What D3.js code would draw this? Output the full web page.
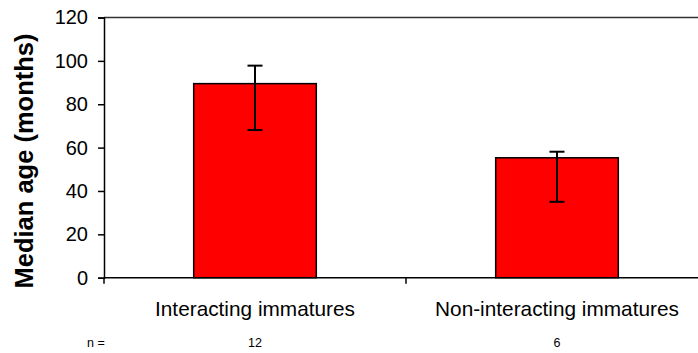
<!DOCTYPE html>
<html>
<head>
<meta charset="utf-8">
<script src="https://cdn.jsdelivr.net/npm/d3@7"></script>
<style>
  html, body { margin: 0; padding: 0; background: #fff; }
  svg { display: block; font-family: Arial, "Liberation Sans", sans-serif; }
</style>
</head>
<body>
<svg id="chart" width="698" height="353"></svg>
<script>
// Median age per group, with error-bar bounds and sample sizes
const categories = ["Interacting immatures", "Non-interacting immatures"];
const medianAge = [89.5, 55.3];
const errorHigh = [97.8, 58.1];
const errorLow = [68.1, 35.0];
const sampleSizes = ["12", "6"];
const yTicks = [0, 20, 40, 60, 80, 100, 120];

const svg = d3.select("#chart");
const plotLeft = 104, plotRight = 708, plotTop = 17.5, plotBottom = 277.7;

const x = d3.scaleBand().domain(categories).range([plotLeft, plotRight])
  .paddingInner(0.594).paddingOuter(0.297);
const y = d3.scaleLinear().domain([0, 120]).range([plotBottom, plotTop]);

// Top border of the plot area
svg.append("line")
  .attr("x1", plotLeft).attr("x2", plotRight)
  .attr("y1", y(120)).attr("y2", y(120))
  .attr("stroke", "#333").attr("stroke-width", 1.5);

// Y axis
const yAxis = svg.append("g")
  .attr("transform", `translate(${plotLeft},0)`)
  .call(d3.axisLeft(y).tickValues(yTicks).tickSize(6).tickPadding(10));
yAxis.select(".domain").attr("stroke", "#000").attr("stroke-width", 1.5);
yAxis.selectAll(".tick line").attr("stroke", "#000").attr("stroke-width", 1.5);
yAxis.selectAll(".tick text")
  .attr("font-size", 20).attr("fill", "#000")
  .attr("font-family", "Arial, 'Liberation Sans', sans-serif");

// Bars
svg.append("g").selectAll("rect")
  .data(categories)
  .join("rect")
  .attr("x", d => x(d))
  .attr("width", x.bandwidth())
  .attr("y", (d, i) => y(medianAge[i]))
  .attr("height", (d, i) => y(0) - y(medianAge[i]))
  .attr("fill", "#ff0000")
  .attr("stroke", "#000")
  .attr("stroke-width", 1.5);

// X axis with category boundary ticks
svg.append("line")
  .attr("x1", plotLeft).attr("x2", plotRight)
  .attr("y1", y(0)).attr("y2", y(0))
  .attr("stroke", "#000").attr("stroke-width", 1.5);
const step = x.step();
const boundaries = d3.range(categories.length + 1).map(i => plotLeft + i * step);
svg.append("g").selectAll("line")
  .data(boundaries)
  .join("line")
  .attr("x1", d => d).attr("x2", d => d)
  .attr("y1", y(0)).attr("y2", y(0) + 6)
  .attr("stroke", "#000").attr("stroke-width", 1.5);

// Error bars
const cap = 7.5;
const eb = svg.append("g").attr("stroke", "#000").attr("stroke-width", 2);
categories.forEach((c, i) => {
  const cx = x(c) + x.bandwidth() / 2;
  eb.append("line").attr("x1", cx).attr("x2", cx)
    .attr("y1", y(errorHigh[i])).attr("y2", y(errorLow[i]));
  eb.append("line").attr("x1", cx - cap).attr("x2", cx + cap)
    .attr("y1", y(errorHigh[i])).attr("y2", y(errorHigh[i]));
  eb.append("line").attr("x1", cx - cap).attr("x2", cx + cap)
    .attr("y1", y(errorLow[i])).attr("y2", y(errorLow[i]));
});

// Category labels
svg.append("g").selectAll("text")
  .data(categories)
  .join("text")
  .attr("x", d => x(d) + x.bandwidth() / 2)
  .attr("y", 316)
  .attr("text-anchor", "middle")
  .attr("font-size", 20.8)
  .attr("fill", "#000")
  .text(d => d);

// Sample sizes
svg.append("text")
  .attr("x", 87).attr("y", 347)
  .attr("font-size", 12.5).attr("fill", "#000")
  .text("n =");
svg.append("g").selectAll("text")
  .data(categories)
  .join("text")
  .attr("x", d => x(d) + x.bandwidth() / 2)
  .attr("y", 347)
  .attr("text-anchor", "middle")
  .attr("font-size", 12.5)
  .attr("fill", "#000")
  .text((d, i) => sampleSizes[i]);

// Y axis title
svg.append("text")
  .attr("transform", `translate(33,161) rotate(-90)`)
  .attr("text-anchor", "middle")
  .attr("font-size", 25.5)
  .attr("font-weight", "bold")
  .attr("fill", "#000")
  .text("Median age (months)");
</script>
</body>
</html>
